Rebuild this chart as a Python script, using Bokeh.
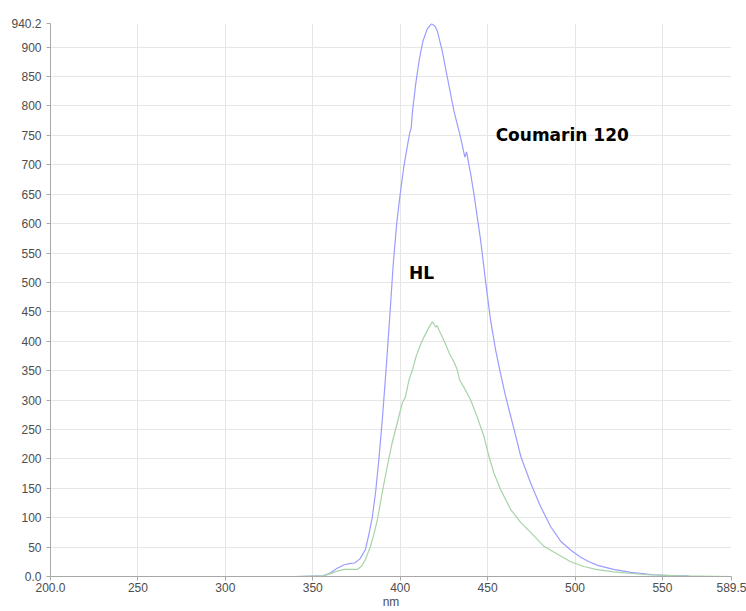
from bokeh.plotting import figure
from bokeh.models import Range1d, FixedTicker, Label
from bokeh.embed import file_html
from bokeh.resources import INLINE

# Coumarin 120 emission (blue)
coumarin_nm = [300, 340, 356, 360, 364, 368, 371, 374, 377, 380, 382, 384, 386, 388, 390,
               392, 394, 396, 398, 400, 402, 404, 405.5, 406.3, 407, 409, 411, 413, 415.5,
               418, 420, 421.2, 424, 427, 430.7, 434.5, 437, 438, 439, 440.3, 442.2, 446,
               449, 451.7, 454.6, 457.4, 460, 463, 466, 469, 474.6, 480.3, 486, 491.8,
               497.5, 503, 508, 513, 522, 532, 545, 555, 565]
coumarin_val = [0, 0, 1, 6, 14, 20, 22, 23, 30, 45, 70, 100, 145, 205, 275,
                355, 440, 530, 600, 650, 695, 730, 755, 762, 790, 840, 880, 910, 931,
                940, 935, 928, 894, 848, 792, 747, 713, 722, 705, 685, 650, 572,
                498, 436, 385, 345, 310, 275, 240, 204, 159, 119, 85, 60,
                45, 33, 25, 19, 12, 7, 3, 1.5, 1]

# HL emission (green)
hl_nm = [300, 340, 356, 360, 364, 368, 372, 375.5, 378, 380, 383, 385, 387, 389.7, 392.6,
         395.4, 398.3, 401.2, 403, 405, 407, 409, 411.7, 413.6, 416.5, 418.4, 419.5, 420.3,
         421.2, 422, 424.1, 426, 428, 430.7, 432.6, 434, 436.4, 440.3, 444.1, 447.9, 450.8,
         453.6, 457.4, 463.2, 468.9, 474.6, 482, 490, 497.5, 505, 512, 522, 541, 560, 589.5]
hl_val = [0, 0, 1, 5, 9, 12, 12, 12, 18, 28, 51, 72, 97, 142, 187,
          227, 261, 295, 305, 334, 351, 373, 395, 407, 424, 433, 428, 424,
          427, 420, 407, 395, 380, 365, 352, 334, 322, 300, 271, 238, 204,
          176, 148, 114, 92, 75, 52, 38, 25, 17, 12, 8, 3, 1, 0]

x_ticks = [200, 250, 300, 350, 400, 450, 500, 550, 589.5]
x_tick_labels = ["200.0", "250", "300", "350", "400", "450", "500", "550", "589.5"]
y_ticks = [0, 50, 100, 150, 200, 250, 300, 350, 400, 450, 500, 550, 600, 650, 700,
           750, 800, 850, 900, 940.2]
y_tick_labels = ["0.0", "50", "100", "150", "200", "250", "300", "350", "400", "450",
                 "500", "550", "600", "650", "700", "750", "800", "850", "900", "940.2"]

series_names = ["Coumarin 120", "HL"]
x_axis_title = "nm"

p = figure(width=746, height=611, output_backend="svg", toolbar_location=None,
           x_range=Range1d(200, 589.5), y_range=Range1d(0, 940.2),
           min_border_left=50, min_border_right=15, min_border_top=23,
           min_border_bottom=34)
p.outline_line_color = None
p.background_fill_color = "white"

p.xaxis.ticker = FixedTicker(ticks=x_ticks)
p.yaxis.ticker = FixedTicker(ticks=y_ticks)
p.xaxis.major_label_overrides = {t: s for t, s in zip(x_ticks, x_tick_labels)}
p.yaxis.major_label_overrides = {t: s for t, s in zip(y_ticks, y_tick_labels)}

for ax in (p.xaxis, p.yaxis):
    ax.axis_line_color = "#a8a8a8"
    ax.major_tick_line_color = "#a8a8a8"
    ax.major_tick_out = 4
    ax.major_tick_in = 0
    ax.minor_tick_line_color = None
    ax.major_label_text_font = "Liberation Sans"
    ax.major_label_text_font_size = "12px"
    ax.major_label_text_color = "#4d4d4d"
p.xaxis.major_label_standoff = 2
p.yaxis.major_label_standoff = 5

p.xaxis.axis_label = x_axis_title
p.xaxis.axis_label_standoff = 0
p.xaxis.axis_label_text_font = "Liberation Sans"
p.xaxis.axis_label_text_font_size = "12px"
p.xaxis.axis_label_text_font_style = "normal"
p.xaxis.axis_label_text_color = "#4d4d4d"

p.xgrid.grid_line_color = "#e6e6e6"
p.ygrid.grid_line_color = "#e6e6e6"

p.line(coumarin_nm, coumarin_val, line_color="#9c9cff", line_width=1.2)
p.line(hl_nm, hl_val, line_color="#a6d4a6", line_width=1.2)

p.add_layout(Label(x=454.6, y=750, text=series_names[0], text_font="DejaVu Sans",
                   text_font_style="bold", text_font_size="17px", text_color="#000000",
                   text_baseline="alphabetic", text_align="left"))
p.add_layout(Label(x=405, y=516, text=series_names[1], text_font="DejaVu Sans",
                   text_font_style="bold", text_font_size="17px", text_color="#000000",
                   text_baseline="alphabetic", text_align="left"))

open("out.html", "w").write(file_html(p, INLINE))
